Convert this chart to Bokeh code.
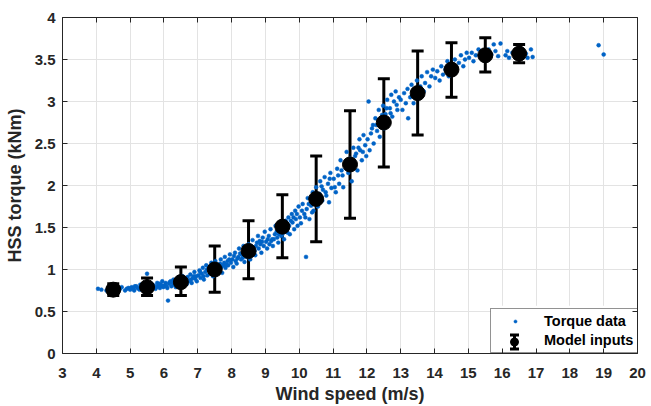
from bokeh.plotting import figure
from bokeh.models import (ColumnDataSource, Whisker, TeeHead, LinearAxis, FixedTicker,
                          NumeralTickFormatter, Legend, LegendItem, Range1d, BoxAnnotation)
from bokeh.embed import file_html
from bokeh.resources import INLINE

# ---- axis ticks ----
x_ticks = list(range(3, 21))
y_ticks = [0, 0.5, 1, 1.5, 2, 2.5, 3, 3.5, 4]

# ---- model inputs (bin means with error bars) ----
bin_wind = [4.5, 5.5, 6.5, 7.5, 8.5, 9.5, 10.5, 11.5, 12.5, 13.5, 14.5, 15.5, 16.5]
bin_mean = [0.76, 0.79, 0.85, 1.00, 1.22, 1.51, 1.84, 2.25, 2.75, 3.10, 3.38, 3.55, 3.57]
bin_lower = [0.69, 0.69, 0.69, 0.73, 0.89, 1.14, 1.33, 1.61, 2.22, 2.60, 3.05, 3.35, 3.46]
bin_upper = [0.83, 0.90, 1.03, 1.28, 1.58, 1.89, 2.35, 2.89, 3.27, 3.60, 3.70, 3.76, 3.68]

# ---- torque data (scatter) ----
wind_lo = [4.05, 4.15, 4.3, 4.4, 4.55, 4.6, 4.7, 4.75, 4.85, 4.9, 4.95, 5.0,
           5.05, 5.1, 5.12, 5.18, 5.22, 5.28, 5.3, 5.35, 5.4, 5.45, 5.5, 5.52, 5.55, 5.6,
           5.62, 5.68, 5.7, 5.75, 5.8, 5.82, 5.88, 5.9, 5.95, 5.98,
           6.02, 6.05, 6.1, 6.12, 6.15, 6.2, 6.22, 6.28, 6.3, 6.35, 6.38, 6.42, 6.45, 6.5,
           6.52, 6.55, 6.6, 6.62, 6.68, 6.7, 6.72, 6.78, 6.8, 6.82, 6.88, 6.9, 6.92, 6.97]
torque_lo = [0.77, 0.76, 0.75, 0.78, 0.76, 0.74, 0.77, 0.79, 0.75, 0.77, 0.78, 0.76,
             0.79, 0.77, 0.75, 0.80, 0.78, 0.76, 0.82, 0.79, 0.77, 0.81, 0.95, 0.78, 0.80, 0.76,
             0.83, 0.79, 0.81, 0.77, 0.84, 0.80, 0.78, 0.82, 0.86, 0.79,
             0.81, 0.84, 0.78, 0.63, 0.83, 0.86, 0.80, 0.88, 0.82, 0.79, 0.85, 0.90, 0.83, 0.87,
             0.81, 0.92, 0.85, 0.88, 0.83, 0.91, 0.86, 0.94, 0.88, 0.84, 0.92, 0.97, 0.89, 0.86]

wind_mid = [7.02, 7.05, 7.08, 7.12, 7.15, 7.18, 7.22, 7.25, 7.28, 7.32, 7.35, 7.4, 7.42, 7.45,
            7.5, 7.52, 7.55, 7.6, 7.62, 7.68, 7.7, 7.72, 7.78, 7.8, 7.82, 7.88, 7.9, 7.95, 7.98,
            8.02, 8.05, 8.1, 8.12, 8.15, 8.2, 8.22, 8.28, 8.3, 8.35, 8.38, 8.42, 8.45, 8.5,
            8.52, 8.55, 8.6, 8.62, 8.68, 8.7, 8.75, 8.78, 8.8, 8.85, 8.88, 8.92, 8.95, 8.98,
            9.02, 9.05, 9.1, 9.12, 9.15, 9.2, 9.22, 9.28, 9.3, 9.35, 9.38, 9.42, 9.45, 9.5,
            9.52, 9.55, 9.6, 9.62, 9.68, 9.7, 9.72, 9.78, 9.8, 9.85, 9.88, 9.9, 9.95, 9.98]
torque_mid = [0.93, 0.99, 0.90, 0.95, 1.02, 0.88, 0.97, 1.05, 0.93, 1.00, 0.95, 1.08, 0.98, 0.92,
              1.03, 1.10, 0.97, 1.05, 1.00, 1.12, 1.03, 0.96, 1.08, 1.15, 1.02, 1.10, 1.05, 1.18, 1.08,
              1.12, 1.03, 1.20, 1.10, 1.07, 1.15, 1.25, 1.12, 1.18, 1.28, 1.09, 1.22, 1.15, 1.30,
              1.20, 1.12, 1.26, 1.35, 1.22, 1.17, 1.32, 1.40, 1.25, 1.30, 1.20, 1.38, 1.28, 1.45,
              1.33, 1.25, 1.40, 1.30, 1.48, 1.36, 1.28, 1.42, 1.52, 1.38, 1.32, 1.46, 1.56, 1.42,
              1.50, 1.36, 1.58, 1.48, 1.62, 1.52, 1.42, 1.66, 1.56, 1.48, 1.70, 1.60, 1.52, 1.75]

wind_hi = [10.02, 10.05, 10.1, 10.15, 10.2, 10.22, 10.25, 10.3, 10.35, 10.4, 10.42, 10.48,
           10.5, 10.55, 10.6, 10.62, 10.68, 10.7, 10.75, 10.8, 10.85, 10.88, 10.92, 10.95,
           11.02, 11.08, 11.12, 11.18, 11.22, 11.28, 11.3, 11.35, 11.4, 11.45, 11.5, 11.55,
           11.6, 11.62, 11.68, 11.72, 11.78, 11.8, 11.85, 11.9, 11.95, 11.98,
           12.02, 12.05, 12.08, 12.12, 12.18, 12.2, 12.25, 12.3, 12.35, 12.38, 12.42, 12.48,
           12.5, 12.55, 12.6, 12.62, 12.68, 12.72, 12.75, 12.8, 12.85, 12.9, 12.95]
torque_hi = [1.62, 1.55, 1.78, 1.66, 1.15, 1.72, 1.85, 1.60, 1.76, 1.92, 1.70, 1.83,
             1.98, 1.75, 1.90, 2.05, 1.82, 1.95, 2.10, 1.88, 2.02, 1.80, 2.15, 1.97,
             2.08, 1.92, 2.20, 2.02, 2.30, 2.12, 1.98, 2.25, 2.40, 2.15, 2.32, 2.05,
             2.45, 2.28, 2.38, 2.18, 2.55, 2.42, 2.30, 2.60, 2.48, 2.35,
             2.55, 3.00, 2.42, 2.62, 2.72, 2.50, 2.80, 2.65, 2.90, 2.58, 2.75, 2.95,
             2.68, 2.85, 3.02, 2.78, 2.92, 3.08, 2.82, 3.00, 3.12, 2.90, 3.05]

wind_top = [13.0, 13.05, 13.1, 13.15, 13.2, 13.22, 13.28, 13.32, 13.38, 13.42, 13.48, 13.52,
            13.58, 13.62, 13.68, 13.72, 13.78, 13.85, 13.9, 13.95,
            14.02, 14.08, 14.15, 14.2, 14.25, 14.32, 14.38, 14.42, 14.5, 14.55, 14.6, 14.65,
            14.72, 14.78, 14.85, 14.9, 14.95,
            15.02, 15.1, 15.15, 15.22, 15.3, 15.38, 15.45, 15.55, 15.6, 15.68, 15.75, 15.8,
            15.88, 15.95, 16.1, 16.15, 16.2, 16.3, 16.4, 16.55, 16.7, 16.75, 16.85, 16.9,
            18.85, 19.0]
torque_top = [3.02, 2.90, 3.10, 2.98, 3.15, 2.80, 3.05, 3.20, 2.98, 3.12, 3.25, 3.05,
              3.18, 3.30, 3.12, 3.22, 3.35, 3.18, 3.30, 3.38,
              3.28, 3.36, 3.25, 3.42, 3.32, 3.38, 3.48, 3.30, 3.42, 3.36, 3.50, 3.40,
              3.46, 3.55, 3.42, 3.50, 3.58,
              3.52, 3.58, 3.48, 3.55, 3.62, 3.52, 3.58, 3.50, 3.62, 3.56, 3.68, 3.60,
              3.54, 3.69, 3.55, 3.60, 3.52, 3.58, 3.55, 3.60, 3.57, 3.52, 3.62, 3.53,
              3.67, 3.56]

wind_extra = [5.03, 5.14, 5.26, 5.37, 5.47, 5.58, 5.66, 5.77, 5.86, 5.93,
              6.07, 6.17, 6.26, 6.33, 6.47, 6.57, 6.66, 6.75, 6.85, 6.95,
              7.07, 7.17, 7.27, 7.37, 7.47, 7.57, 7.66, 7.75, 7.85, 7.93,
              8.07, 8.17, 8.25, 8.33, 8.47, 8.57, 8.65, 8.72, 8.83, 8.9,
              9.07, 9.17, 9.25, 9.33, 9.4, 9.47, 9.57, 9.65, 9.75, 9.83, 9.93,
              10.08, 10.18, 10.28, 10.38, 10.45, 10.58, 10.66, 10.78, 10.9,
              11.05, 11.15, 11.25, 11.42, 11.52, 11.65, 11.75, 11.88,
              12.15, 12.28, 12.45, 12.58, 12.7, 12.88]
torque_extra = [0.78, 0.80, 0.77, 0.80, 0.78, 0.82, 0.80, 0.79, 0.83, 0.81,
                0.80, 0.85, 0.84, 0.87, 0.86, 0.84, 0.89, 0.87, 0.90, 0.92,
                0.97, 0.92, 1.00, 0.98, 0.99, 1.02, 1.07, 1.05, 1.06, 1.12,
                1.16, 1.13, 1.19, 1.14, 1.24, 1.28, 1.21, 1.28, 1.34, 1.33,
                1.36, 1.34, 1.36, 1.45, 1.42, 1.40, 1.54, 1.44, 1.58, 1.62, 1.66,
                1.70, 1.62, 1.78, 1.68, 1.86, 1.84, 1.99, 1.92, 2.08,
                1.98, 2.12, 2.18, 2.28, 2.20, 2.35, 2.45, 2.40,
                2.68, 2.72, 2.84, 2.92, 2.86, 2.96]

wind_speed = wind_lo + wind_mid + wind_hi + wind_top + wind_extra
torque = torque_lo + torque_mid + torque_hi + torque_top + torque_extra

TXT = "#262626"
FONT = "Liberation Sans"
BLUE = "#0063c6"

X0, X1, Y0, Y1 = 3, 20, 0, 4
FRAME_W, FRAME_H = 575, 337
p = figure(width=651, height=406, x_range=Range1d(X0, X1), y_range=Range1d(Y0, Y1),
           output_backend="svg", toolbar_location=None,
           min_border_left=62, min_border_right=14, min_border_top=17, min_border_bottom=52,
           background_fill_color="white", border_fill_color="white")
p.outline_line_color = None

for ax in (p.xaxis[0], p.yaxis[0]):
    ax.major_tick_in = 5
    ax.major_tick_out = 0
    ax.minor_tick_line_color = None
    ax.axis_line_color = TXT
    ax.major_tick_line_color = TXT
    ax.major_label_text_font = FONT
    ax.major_label_text_font_style = "bold"
    ax.major_label_text_font_size = "15px"
    ax.major_label_text_color = TXT
    ax.axis_label_text_font = FONT
    ax.axis_label_text_font_style = "bold"
    ax.axis_label_text_font_size = "18px"
    ax.axis_label_text_color = TXT

p.xaxis.ticker = FixedTicker(ticks=x_ticks)
p.yaxis.ticker = FixedTicker(ticks=y_ticks)
p.yaxis.formatter = NumeralTickFormatter(format="0.[0]")
p.xaxis.axis_label = "Wind speed (m/s)"
p.yaxis.axis_label = "HSS torque (kNm)"
p.xaxis.major_label_standoff = 14
p.yaxis.major_label_standoff = 7
p.xaxis.axis_label_standoff = 3
p.yaxis.axis_label_standoff = 7

for loc, ticks in (("above", x_ticks), ("right", y_ticks)):
    ax = LinearAxis(ticker=FixedTicker(ticks=ticks), major_tick_in=5, major_tick_out=0,
                    minor_tick_line_color=None, axis_line_color=TXT, major_tick_line_color=TXT,
                    major_label_text_font_size="0px", major_label_standoff=0)
    ax.major_label_overrides = {t: "" for t in ticks}
    p.add_layout(ax, loc)

p.xgrid.ticker = FixedTicker(ticks=x_ticks)
p.ygrid.ticker = FixedTicker(ticks=y_ticks)
p.xgrid.grid_line_color = "#e3e3e3"
p.ygrid.grid_line_color = "#e3e3e3"

# ---- legend geometry (pixels from the frame's left / bottom edge) ----
LEG_LEFT, LEG_H = 428, 48
LEG_PAD, LEG_GW, LEG_GH, LEG_SP = 4, 40, 8, 3
px_x = (X1 - X0) / FRAME_W
px_y = (Y1 - Y0) / FRAME_H

# white legend background that hides the grid (drawn under the icon and legend)
p.add_layout(BoxAnnotation(left=X0 + LEG_LEFT * px_x, right=X1, bottom=Y0, top=Y0 + LEG_H * px_y,
                           fill_color="white", fill_alpha=1, line_color=None, level="underlay"))

data_r = p.scatter(wind_speed, torque, size=3.9, fill_color=BLUE, line_color=BLUE, line_width=0.5)

src = ColumnDataSource(dict(x=bin_wind, mean=bin_mean, lower=bin_lower, upper=bin_upper))
wh = Whisker(source=src, base="x", lower="lower", upper="upper", line_width=3, line_color="black",
             upper_head=TeeHead(size=12, line_width=3, line_color="black"),
             lower_head=TeeHead(size=12, line_width=3, line_color="black"))
p.add_layout(wh)
p.scatter("x", "mean", source=src, size=15, color="black")

proxy_r = p.scatter([], [], marker="circle", size=7, color="black")

legend = Legend(items=[LegendItem(label="Torque data", renderers=[data_r]),
                       LegendItem(label="Model inputs", renderers=[proxy_r])],
                location=(LEG_LEFT, 0), margin=0, padding=LEG_PAD, spacing=LEG_SP,
                glyph_width=LEG_GW, glyph_height=LEG_GH, label_standoff=9,
                label_text_font=FONT, label_text_font_style="bold",
                label_text_font_size="14.5px", label_text_color="black",
                border_line_color=TXT, border_line_width=1,
                background_fill_alpha=0)
p.add_layout(legend)

# error-bar icon for "Model inputs": legend pixel offsets converted to axis units
icon_x = X0 + (LEG_LEFT + LEG_PAD + LEG_GW / 2) * px_x
icon_y = Y0 + 11.5 * px_y
icon_src = ColumnDataSource(dict(b=[icon_x], c=[icon_y], lo=[icon_y - 7 * px_y], hi=[icon_y + 7 * px_y]))
icon_wh = Whisker(source=icon_src, base="b", lower="lo", upper="hi", dimension="height",
                  line_width=3, line_color="black", level="annotation",
                  upper_head=TeeHead(size=9, line_width=3, line_color="black"),
                  lower_head=TeeHead(size=9, line_width=3, line_color="black"))
p.add_layout(icon_wh)
icon_dot = p.scatter("b", "c", source=icon_src, size=8, color="black", level="annotation")

open("out.html", "w").write(file_html(p, INLINE))
